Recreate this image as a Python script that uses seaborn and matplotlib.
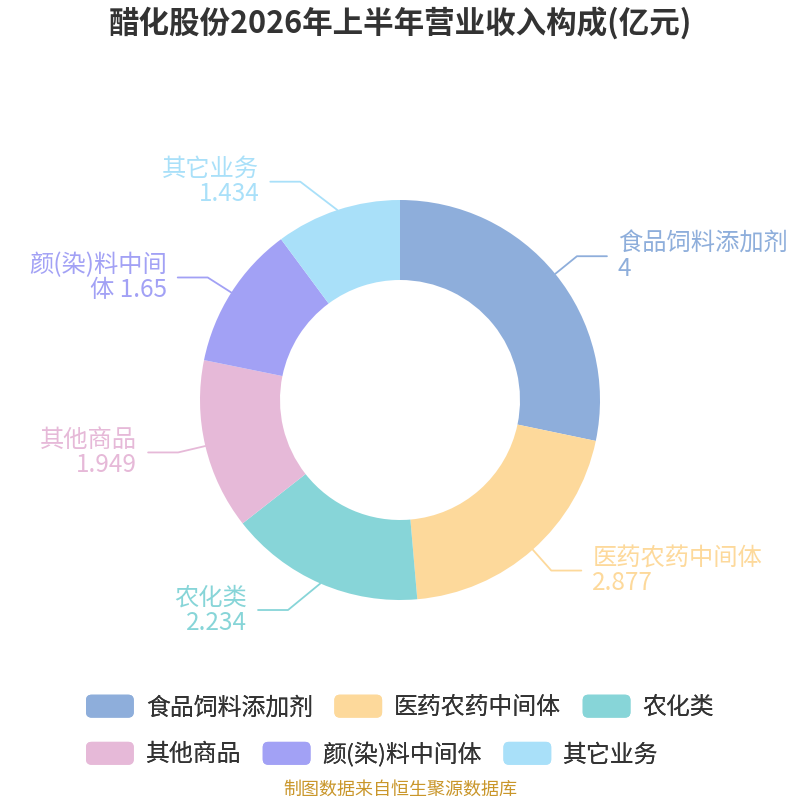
import numpy as np
import matplotlib
matplotlib.use("Agg")
import matplotlib.pyplot as plt
import seaborn as sns
from matplotlib.patches import Patch, FancyBboxPatch
from matplotlib.legend_handler import HandlerPatch

# Revenue breakdown data (100 million yuan)
categories = ["食品饲料添加剂", "医药农药中间体", "农化类", "其他商品", "颜(染)料中间体", "其它业务"]
values = [4, 2.877, 2.234, 1.949, 1.65, 1.434]
value_labels = ["4", "2.877", "2.234", "1.949", "1.65", "1.434"]
# label text as wrapped in the chart
label_texts = ["食品饲料添加剂\n4", "医药农药中间体\n2.877", "农化类\n2.234",
               "其他商品\n1.949", "颜(染)料中间\n体 1.65", "其它业务\n1.434"]
colors = ["#8eaedb", "#fdd99b", "#87d5d8", "#e6b9d8", "#a2a1f5", "#a9e0f9"]

# small layout nudges for labels that were shifted to avoid overlap (deg, elbow radius)
elbow_tweak = {"农化类": (-4.6, 1.19), "其它业务": (6.3, 1.2)}

sns.set_theme(style="white")
plt.rcParams['font.family'] = ['Noto Sans CJK SC', 'DejaVu Sans']

fig = plt.figure(figsize=(8, 8), dpi=100)
ax = fig.add_axes([0, 0, 1, 1])

wedges, _ = ax.pie(values, colors=sns.color_palette(colors), startangle=90, counterclock=False,
                   radius=1.0, wedgeprops=dict(width=0.4, linewidth=0))
# pie resets the limits, so fix them afterwards: 1 unit = 200 px, centre at (400, 400)
ax.set_xlim(-2, 2)
ax.set_ylim(-2, 2)
ax.set_aspect("equal")
ax.axis("off")

# leader lines and labels
for w, name, txt, c in zip(wedges, categories, label_texts, colors):
    mid = (w.theta1 + w.theta2) / 2
    ang = np.deg2rad(mid)
    d_ang, r_elbow = elbow_tweak.get(name, (0, 1.14))
    ang2 = np.deg2rad(mid + d_ang)
    sign = 1 if np.cos(ang) >= 0 else -1
    p0 = (np.cos(ang), np.sin(ang))
    p1 = (np.cos(ang2) * r_elbow, np.sin(ang2) * r_elbow)
    p2 = (p1[0] + sign * 0.15, p1[1])
    ax.plot([p0[0], p1[0], p2[0]], [p0[1], p1[1], p2[1]], color=c, lw=1.3)
    ax.text(p2[0] + sign * 0.055, p2[1], txt, color=c, fontsize=17.5,
            ha="left" if sign > 0 else "right", va="center",
            multialignment="left" if sign > 0 else "right", linespacing=0.95)

fig.text(0.5, 1 - 23 / 800, "醋化股份2026年上半年营业收入构成(亿元)", ha="center", va="center",
         fontsize=22, fontweight="bold", color="#333333")


class RoundHandler(HandlerPatch):
    def create_artists(self, legend, orig_handle, xdescent, ydescent, width, height, fontsize, trans):
        r = 4
        p = FancyBboxPatch((-xdescent + r, -ydescent + r), width - 2 * r, height - 2 * r,
                           boxstyle=f"round,pad={r}", fc=orig_handle.get_facecolor(),
                           ec="none", transform=trans)
        return [p]


handles = [Patch(facecolor=c, label=n) for c, n in zip(colors, categories)]
for row, yc in [(0, 707), (1, 754)]:
    hs = handles[row * 3:row * 3 + 3]
    leg = fig.legend(handles=hs, loc="center left", bbox_to_anchor=(86 / 800, 1 - yc / 800), ncol=3,
                     frameon=False, fontsize=17.2, handlelength=2.0, handleheight=1.1,
                     handletextpad=0.5, columnspacing=0.9, borderpad=0, borderaxespad=0,
                     handler_map={Patch: RoundHandler()})
    for t in leg.get_texts():
        t.set_color("#333333")
    fig.add_artist(leg)

fig.text(0.5, 1 - 790 / 800, "制图数据来自恒生聚源数据库", ha="center", va="center",
         fontsize=13, color="#c9962a")

fig.savefig("out.png", dpi=100)
